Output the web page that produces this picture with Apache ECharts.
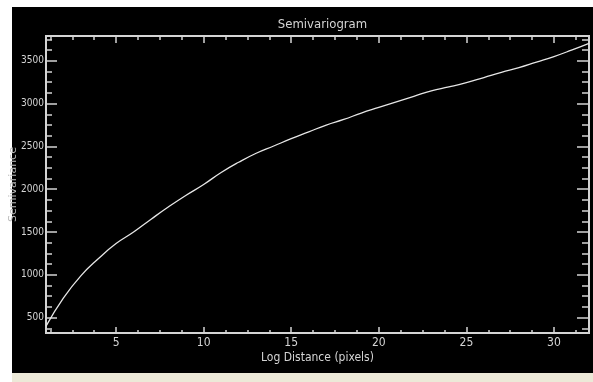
<!DOCTYPE html>
<html>
<head>
<meta charset="utf-8">
<script src="https://cdn.jsdelivr.net/npm/echarts@6/dist/echarts.min.js"></script>
<style>
  html, body { margin: 0; padding: 0; background: #fff; width: 593px; height: 382px; overflow: hidden; }
  #panel { position: absolute; left: 12px; top: 7px; width: 581px; height: 366px; background: #000; }
  #strip { position: absolute; left: 12px; top: 373px; width: 581px; height: 9px; background: #ece9d8; }
  #chart { position: absolute; left: 0; top: 0; width: 593px; height: 382px; }
</style>
</head>
<body>
<div id="panel"></div>
<div id="strip"></div>
<div id="chart"></div>
<script>
// log distance (pixels) and semivariance
const distance = [1, 2, 3, 4, 5, 6, 7, 8, 9, 10, 11, 12, 13, 14, 15, 16,
  17, 18, 19, 20, 21, 22, 23, 24, 25, 26, 27, 28, 29, 30, 31, 32]
const semivariance = [400, 730, 990, 1190, 1365, 1500, 1650, 1795, 1930, 2055, 2195, 2315,
  2420, 2505, 2590, 2670, 2750, 2815, 2890, 2955, 3020, 3085, 3150, 3195,
  3245, 3305, 3365, 3420, 3485, 3550, 3625, 3705]

const xTicks = [5, 10, 15, 20, 25, 30]
const yTicks = [500, 1000, 1500, 2000, 2500, 3000, 3500]
const xRange = [1, 32]
const yRange = [320, 3790]

// minor ticks: 4 per major step
function minors(range, step) {
  const out = []
  const m = step / 4
  for (let v = Math.ceil(range[0] / m) * m; v <= range[1]; v += m) {
    if (Math.abs(v / step - Math.round(v / step)) > 1e-6) out.push(v)
  }
  return out
}
const xMinor = minors(xRange, 5)
const yMinor = minors(yRange, 500)

const fg = '#d4d4d4'
const narrow = "'Liberation Sans Narrow', 'DejaVu Sans Condensed', 'Roboto Condensed', sans-serif"

function xAxis(pos, ticks, len, labels, name) {
  return {
    type: 'value', position: pos, min: xRange[0], max: xRange[1],
    name: name || '', nameLocation: 'middle', nameGap: 19, nameMoveOverlap: false,
    nameTextStyle: { color: fg, fontSize: 12, fontFamily: narrow },
    axisLine: { show: true, onZero: false, lineStyle: { color: fg, width: 2 } },
    axisTick: { show: true, inside: true, length: len, customValues: ticks, lineStyle: { color: fg, width: 1.5 } },
    axisLabel: { show: labels, customValues: ticks, color: fg, fontSize: 12, fontFamily: narrow, margin: 4,
      formatter: v => String(v) },
    splitLine: { show: false }
  }
}
function yAxis(pos, ticks, len, labels, name) {
  return {
    type: 'value', position: pos, min: yRange[0], max: yRange[1],
    name: name || '', nameLocation: 'middle', nameGap: 27, nameRotate: 90, nameMoveOverlap: false,
    nameTextStyle: { color: '#bbb', fontSize: 11, fontFamily: 'DejaVu Sans' },
    axisLine: { show: true, onZero: false, lineStyle: { color: fg, width: 2 } },
    axisTick: { show: true, inside: true, length: len, customValues: ticks, lineStyle: { color: fg, width: 1.5 } },
    axisLabel: { show: labels, customValues: ticks, color: fg, fontSize: 10, fontFamily: narrow, margin: 2,
      formatter: v => String(v) },
    splitLine: { show: false }
  }
}

const chart = echarts.init(document.getElementById('chart'), null, { renderer: 'canvas' })
chart.setOption({
  backgroundColor: 'transparent',
  animation: false,
  title: {
    text: 'Semivariogram',
    left: 317.5, top: 13, textAlign: 'center',
    textStyle: { color: fg, fontSize: 13, fontWeight: 'normal', fontFamily: narrow }
  },
  grid: { left: 46, top: 36, right: 4, bottom: 49, containLabel: false, outerBoundsMode: 'none' },
  xAxis: [
    xAxis('bottom', xTicks, 6, true, 'Log Distance (pixels)'),
    xAxis('bottom', xMinor, 3, false),
    xAxis('top', xTicks, 7, false),
    xAxis('top', xMinor, 4, false)
  ],
  yAxis: [
    yAxis('left', yTicks, 11, true, 'Semivariance'),
    yAxis('left', yMinor, 6, false),
    yAxis('right', yTicks, 12, false),
    yAxis('right', yMinor, 7, false)
  ],
  series: [{
    type: 'line',
    xAxisIndex: 0, yAxisIndex: 0,
    data: distance.map((d, i) => [d, semivariance[i]]),
    showSymbol: false,
    smooth: true,
    lineStyle: { color: '#e6e6e6', width: 1.3 }
  }]
})
</script>
</body>
</html>
